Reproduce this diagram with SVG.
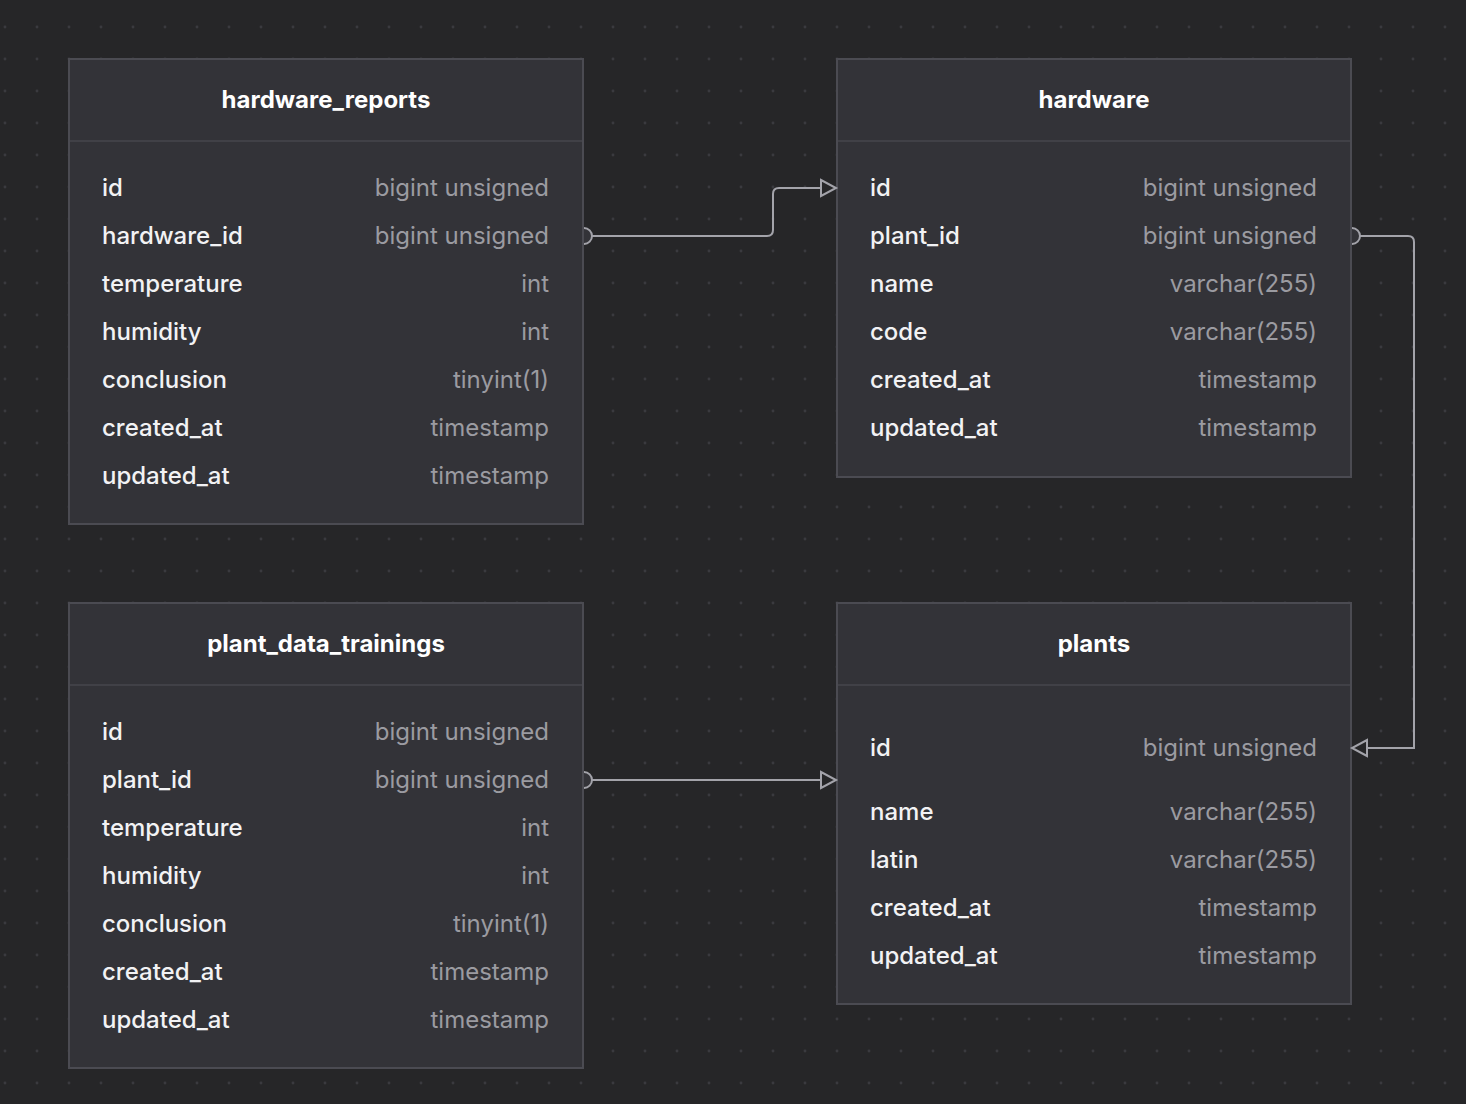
<svg xmlns="http://www.w3.org/2000/svg" width="1466" height="1104" viewBox="0 0 1466 1104">
<defs>
<pattern id="dots" x="0" y="0" width="32" height="32" patternUnits="userSpaceOnUse" patternTransform="translate(5 27)">
<circle cx="0" cy="0" r="1.4" fill="#3a3a3f"/>
<circle cx="32" cy="0" r="1.4" fill="#3a3a3f"/>
<circle cx="0" cy="32" r="1.4" fill="#3a3a3f"/>
<circle cx="32" cy="32" r="1.4" fill="#3a3a3f"/>
</pattern>
<marker id="arrow" viewBox="0 0 20 20" refX="17" refY="10" markerWidth="20" markerHeight="20" markerUnits="userSpaceOnUse" orient="auto">
<path d="M2,2 L17,10 L2,18 Z" fill="#262628" stroke="#a3a3aa" stroke-width="2"/>
</marker>
</defs>
<style>
.box{fill:#333338;stroke:#4b4b52;stroke-width:2}
.div{stroke:#414147;stroke-width:2}
.title{font-family:Inter,"Liberation Sans",sans-serif;font-weight:700;font-size:24px;fill:#ffffff;text-anchor:middle}
.nm{font-family:Inter,"Liberation Sans",sans-serif;font-weight:500;font-size:24px;fill:#f2f2f4}
.ty{font-family:Inter,"Liberation Sans",sans-serif;font-size:24px;fill:#9b9ba1;text-anchor:end}
.edge{fill:none;stroke:#a3a3aa;stroke-width:2}
.cap{fill:#333338;stroke:#a3a3aa;stroke-width:2}
</style>
<rect width="1466" height="1104" fill="#262628"/>
<rect width="1466" height="1104" fill="url(#dots)"/>

<g id="hardware_reports">
<rect class="box" x="69" y="59" width="514" height="465"/>
<line class="div" x1="70" y1="141" x2="582" y2="141"/>
<text class="title" x="326" y="108">hardware_reports</text>
<text class="nm" x="102" y="196">id</text><text class="ty" x="549" y="196">bigint unsigned</text>
<text class="nm" x="102" y="244">hardware_id</text><text class="ty" x="549" y="244">bigint unsigned</text>
<text class="nm" x="102" y="292">temperature</text><text class="ty" x="549" y="292">int</text>
<text class="nm" x="102" y="340">humidity</text><text class="ty" x="549" y="340">int</text>
<text class="nm" x="102" y="388">conclusion</text><text class="ty" x="549" y="388">tinyint(1)</text>
<text class="nm" x="102" y="436">created_at</text><text class="ty" x="549" y="436">timestamp</text>
<text class="nm" x="102" y="484">updated_at</text><text class="ty" x="549" y="484">timestamp</text>
</g>

<g id="hardware">
<rect class="box" x="837" y="59" width="514" height="418"/>
<line class="div" x1="838" y1="141" x2="1350" y2="141"/>
<text class="title" x="1094" y="108">hardware</text>
<text class="nm" x="870" y="196">id</text><text class="ty" x="1317" y="196">bigint unsigned</text>
<text class="nm" x="870" y="244">plant_id</text><text class="ty" x="1317" y="244">bigint unsigned</text>
<text class="nm" x="870" y="292">name</text><text class="ty" x="1317" y="292">varchar(255)</text>
<text class="nm" x="870" y="340">code</text><text class="ty" x="1317" y="340">varchar(255)</text>
<text class="nm" x="870" y="388">created_at</text><text class="ty" x="1317" y="388">timestamp</text>
<text class="nm" x="870" y="436">updated_at</text><text class="ty" x="1317" y="436">timestamp</text>
</g>

<g id="plant_data_trainings">
<rect class="box" x="69" y="603" width="514" height="465"/>
<line class="div" x1="70" y1="685" x2="582" y2="685"/>
<text class="title" x="326" y="652">plant_data_trainings</text>
<text class="nm" x="102" y="740">id</text><text class="ty" x="549" y="740">bigint unsigned</text>
<text class="nm" x="102" y="788">plant_id</text><text class="ty" x="549" y="788">bigint unsigned</text>
<text class="nm" x="102" y="836">temperature</text><text class="ty" x="549" y="836">int</text>
<text class="nm" x="102" y="884">humidity</text><text class="ty" x="549" y="884">int</text>
<text class="nm" x="102" y="932">conclusion</text><text class="ty" x="549" y="932">tinyint(1)</text>
<text class="nm" x="102" y="980">created_at</text><text class="ty" x="549" y="980">timestamp</text>
<text class="nm" x="102" y="1028">updated_at</text><text class="ty" x="549" y="1028">timestamp</text>
</g>

<g id="plants">
<rect class="box" x="837" y="603" width="514" height="401"/>
<line class="div" x1="838" y1="685" x2="1350" y2="685"/>
<text class="title" x="1094" y="652">plants</text>
<text class="nm" x="870" y="756">id</text><text class="ty" x="1317" y="756">bigint unsigned</text>
<text class="nm" x="870" y="820">name</text><text class="ty" x="1317" y="820">varchar(255)</text>
<text class="nm" x="870" y="868">latin</text><text class="ty" x="1317" y="868">varchar(255)</text>
<text class="nm" x="870" y="916">created_at</text><text class="ty" x="1317" y="916">timestamp</text>
<text class="nm" x="870" y="964">updated_at</text><text class="ty" x="1317" y="964">timestamp</text>
</g>

<g id="connectors">
<path class="edge" d="M591,236 H767 Q773,236 773,230 V194 Q773,188 779,188 H836" marker-end="url(#arrow)"/>
<path class="cap" d="M584,228 A8,8 0 0 1 584,244"/>
<path class="edge" d="M1359,236 H1408 Q1414,236 1414,242 V748 H1352" marker-end="url(#arrow)"/>
<path class="cap" d="M1352,228 A8,8 0 0 1 1352,244"/>
<path class="edge" d="M591,780 H836" marker-end="url(#arrow)"/>
<path class="cap" d="M584,772 A8,8 0 0 1 584,788"/>
</g>
</svg>
